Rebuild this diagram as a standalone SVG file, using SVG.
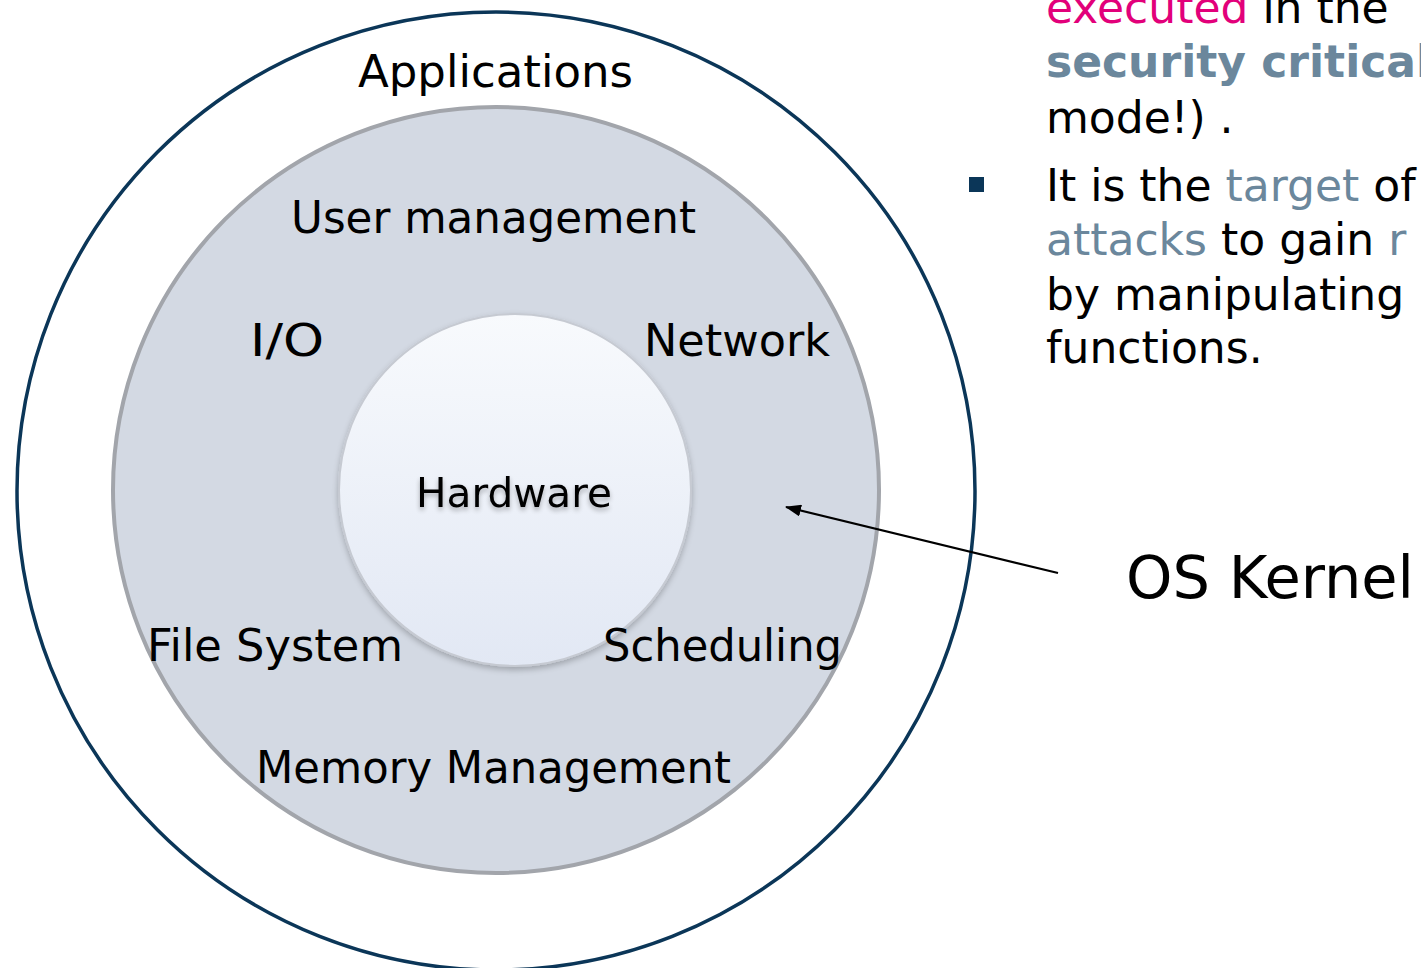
<svg xmlns="http://www.w3.org/2000/svg" width="1421" height="968" viewBox="0 0 1421 968">
<defs>
<linearGradient id="hwGrad" x1="0" y1="0" x2="0" y2="1">
<stop offset="0" stop-color="#f8fafd"/>
<stop offset="1" stop-color="#e2e8f4"/>
</linearGradient>
<filter id="shadow" x="-20%" y="-20%" width="140%" height="140%">
<feGaussianBlur in="SourceAlpha" stdDeviation="3"/>
<feOffset dx="0" dy="3" result="b"/>
<feComponentTransfer><feFuncA type="linear" slope="0.25"/></feComponentTransfer>
<feMerge><feMergeNode/><feMergeNode in="SourceGraphic"/></feMerge>
</filter>
<filter id="tshadow" x="-10%" y="-30%" width="120%" height="160%">
<feGaussianBlur in="SourceAlpha" stdDeviation="2.5"/>
<feOffset dx="0" dy="3"/>
<feComponentTransfer><feFuncA type="linear" slope="0.3"/></feComponentTransfer>
<feMerge><feMergeNode/><feMergeNode in="SourceGraphic"/></feMerge>
</filter>
<marker id="arrow" viewBox="0 0 16 12" refX="15" refY="6" markerWidth="16" markerHeight="12" markerUnits="userSpaceOnUse" orient="auto">
<path d="M0,0 L16,6 L0,12 z" fill="#000"/>
</marker>
</defs>
<style>
.lbl{font-family:"DejaVu Sans","Liberation Sans",sans-serif;font-size:44px;fill:#000}
.body{font-family:"DejaVu Sans","Liberation Sans",sans-serif;font-size:44px;fill:#000}
.pink{fill:#e2007a}
.slate{fill:#6b879c}
</style>
<rect width="1421" height="968" fill="#fff"/>
<g id="applications">
<circle cx="496" cy="491" r="479" fill="#fff" stroke="#0b3658" stroke-width="3.5"/>
<text class="lbl" x="358" y="87" textLength="275" lengthAdjust="spacingAndGlyphs">Applications</text>
</g>
<g id="kernel">
<circle cx="496" cy="490" r="383" fill="#d3d9e3" stroke="#a2a5ab" stroke-width="4"/>
<text class="lbl" x="291" y="233" textLength="405" lengthAdjust="spacingAndGlyphs">User management</text>
<text class="lbl" x="250" y="356" textLength="74" lengthAdjust="spacingAndGlyphs">I/O</text>
<text class="lbl" x="644" y="356" textLength="186" lengthAdjust="spacingAndGlyphs">Network</text>
<text class="lbl" x="147" y="661" textLength="256" lengthAdjust="spacingAndGlyphs">File System</text>
<text class="lbl" x="256" y="783" textLength="475" lengthAdjust="spacingAndGlyphs">Memory Management</text>
</g>
<g id="hardware">
<circle cx="515" cy="490" r="176" fill="url(#hwGrad)" stroke="#c6cad2" stroke-width="2" filter="url(#shadow)"/>
<text class="lbl" x="416" y="507" style="font-size:40px" textLength="196" lengthAdjust="spacingAndGlyphs" filter="url(#tshadow)">Hardware</text>
</g>
<g id="scheduling">
<text class="lbl" x="603" y="661" textLength="239" lengthAdjust="spacingAndGlyphs">Scheduling</text>
</g>
<g id="connectors">
<line x1="1058" y1="573" x2="786" y2="507" stroke="#000" stroke-width="2.2" marker-end="url(#arrow)"/>
</g>
<g id="os-kernel-label">
<text class="lbl" x="1126" y="598" style="font-size:58px" textLength="288" lengthAdjust="spacingAndGlyphs">OS Kernel</text>
</g>
<g id="bullet-text">
<text class="body" x="1046" y="23"><tspan class="pink">executed</tspan> in the</text>
<text class="body" x="1046" y="77"><tspan class="slate" font-weight="bold">security critical</tspan></text>
<text class="body" x="1046" y="133">mode!) .</text>
<rect x="969" y="177" width="15" height="15" fill="#0b3658"/>
<text class="body" x="1046" y="201">It is the <tspan class="slate">target</tspan> of</text>
<text class="body" x="1046" y="255"><tspan class="slate">attacks</tspan> to gain <tspan class="slate">r</tspan></text>
<text class="body" x="1046" y="310">by manipulating</text>
<text class="body" x="1046" y="363">functions.</text>
</g>
</svg>
